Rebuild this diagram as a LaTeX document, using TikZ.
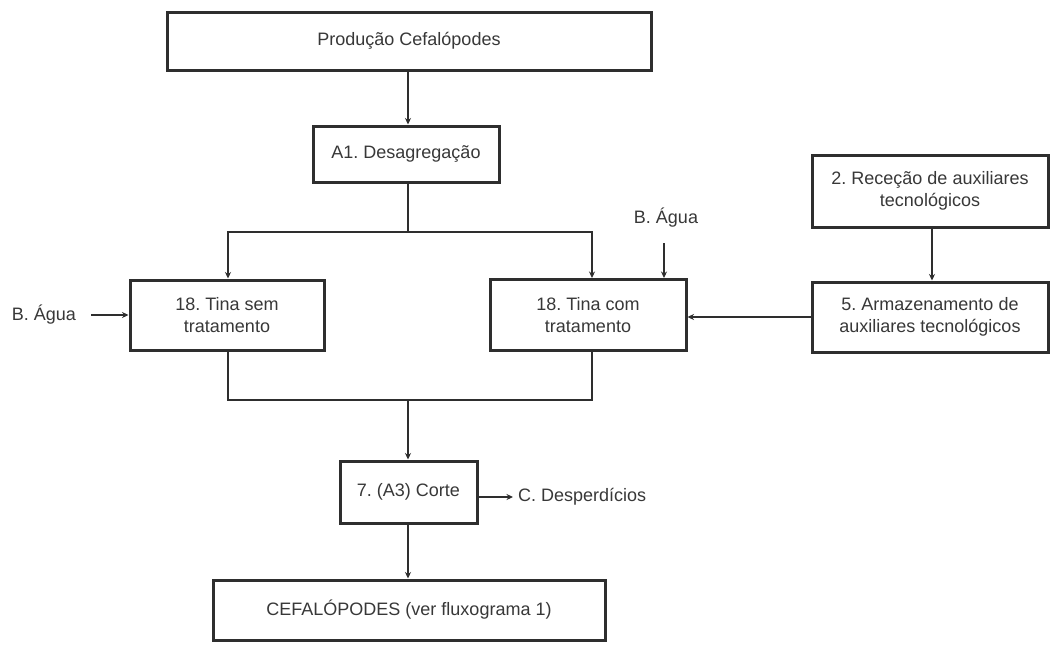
\documentclass[tikz,border=0pt]{standalone}
\usepackage{fontspec}
\setmainfont{Liberation Sans}
\usetikzlibrary{arrows.meta}
\definecolor{ink}{HTML}{2E2E2E}
\definecolor{txt}{HTML}{383838}
\frenchspacing
\begin{document}
\begin{tikzpicture}[x=1pt,y=-1pt,
  box/.style={draw=ink, line width=3pt, rectangle, inner sep=0pt, align=center,
    text=txt, font=\fontsize{18}{21.5}\selectfont},
  lbl/.style={text=txt, inner sep=0pt, font=\fontsize{18}{21.5}\selectfont},
  link/.style={draw=ink, line width=1.7pt},
  flow/.style={link, -{Stealth[length=6.5pt,width=6pt]}}]
\useasboundingbox (0,0) rectangle (1050,646);
\fill[white] (0,0) rectangle (1050,646);

% process boxes
\node[box, minimum width=484pt, minimum height=58pt] (top) at (409,41) {Produção Cefalópodes};
\node[box, minimum width=186pt, minimum height=56pt] (a1) at (406,154) {A1. Desagregação};
\node[box, minimum width=194pt, minimum height=70pt] (tsem) at (227,315) {18. Tina sem\\tratamento};
\node[box, minimum width=196pt, minimum height=71pt] (tcom) at (588,315) {18. Tina com\\tratamento};
\node[box, minimum width=236pt, minimum height=72pt] (rec) at (930,191) {2. Receção de auxiliares\\tecnológicos};
\node[box, minimum width=236pt, minimum height=70pt] (arm) at (930,317) {5. Armazenamento de\\auxiliares tecnológicos};
\node[box, minimum width=137pt, minimum height=62pt] (corte) at (408.5,492) {7. (A3) Corte};
\node[box, minimum width=392pt, minimum height=60pt] (final) at (409,610) {CEFALÓPODES (ver fluxograma 1)};

% inputs and outputs
\node[lbl] (wleft) at (44,315) {B. Água};
\node[lbl] (wtop) at (666,218) {B. Água};
\node[lbl, anchor=west] (waste) at (518,497) {C. Desperdícios};

% main flow
\coordinate (split) at (408,232);
\coordinate (merge) at (408,400);
\draw[flow] (top.south -| split) -- (a1.north -| split);
\draw[link] (a1.south -| split) -- (split);
\draw[flow] (split) -| ([xshift=1pt]tsem.north);
\draw[flow] (split) -| ([xshift=4pt]tcom.north);
\draw[link] ([xshift=1pt]tsem.south) |- (merge);
\draw[link] ([xshift=4pt]tcom.south) |- (merge);
\draw[flow] (merge) -- (corte.north -| merge);
\draw[flow] (corte.south -| merge) -- (final.north -| merge);

% auxiliaries
\draw[flow] ([xshift=2pt]rec.south) -- ([xshift=2pt]arm.north);
\draw[flow] (arm.west) -- (arm.west -| tcom.east);

% water and waste
\coordinate (wtopstart) at (664,243);
\draw[flow] (wtopstart) -- (wtopstart |- tcom.north);
\draw[flow] ([xshift=15pt]wleft.east) -- (tsem.west);
\draw[flow] (corte.east |- waste.west) -- ([xshift=-5pt]waste.west);
\end{tikzpicture}
\end{document}
